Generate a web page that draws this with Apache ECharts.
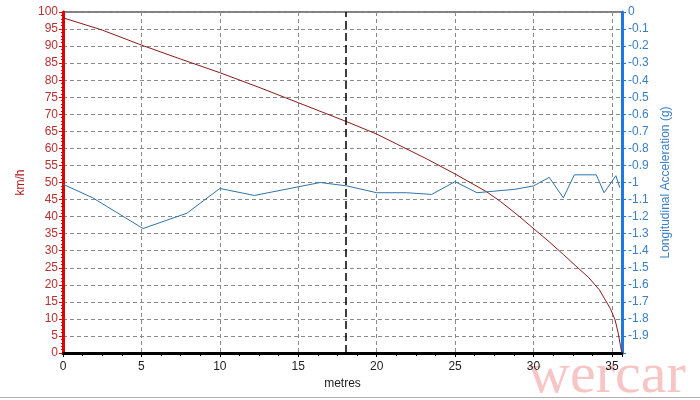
<!DOCTYPE html>
<html>
<head>
<meta charset="utf-8">
<script src="https://cdn.jsdelivr.net/npm/echarts@6/dist/echarts.min.js"></script>
<style>html,body{margin:0;padding:0;background:#fff}#c{width:700px;height:400px}</style>
</head>
<body>
<div id="c"></div>
<script>
// distance (metres) and speed (km/h)
const speedX = [0, 2.5, 5, 7.5, 10, 12.5, 15, 18, 20, 23.2, 25, 27, 27.9, 29, 30.1, 31, 31.9, 32.7, 33.5, 34.2, 34.9, 35.2, 35.4, 35.55, 35.63];
const speedV = [98.3, 94.7, 90.3, 86.2, 82.2, 77.9, 73.4, 68.0, 64.2, 56.9, 52.5, 47.3, 44.4, 40.4, 36.1, 32.6, 28.9, 25.5, 22.2, 18.5, 13.0, 9.7, 5.8, 1.9, 0];
// distance (metres) and longitudinal acceleration (g)
const accX = [0, 1.9, 5.1, 7.9, 10, 12.2, 16.4, 18.1, 20, 21.9, 23.5, 25, 26.4, 28.8, 30, 31, 31.9, 32.6, 34, 34.5, 35.25, 35.5];
const accG = [-1.01, -1.09, -1.27, -1.18, -1.035, -1.076, -1.0, -1.02, -1.06, -1.06, -1.07, -0.995, -1.06, -1.04, -1.02, -0.97, -1.09, -0.955, -0.955, -1.06, -0.96, -1.03];
const markerX = 18;
const xMax = 35.64;

const speedData = speedX.map((x, i) => [x, speedV[i]]);
const accData = accX.map((x, i) => [x, accG[i]]);

const chart = echarts.init(document.getElementById('c'), null, {renderer: 'canvas'});
const font = 'Liberation Sans, Arial, sans-serif';
chart.setOption({
  animation: false,
  backgroundColor: '#ffffff',
  grid: {left: 63, right: 78, top: 12, bottom: 47, show: true, borderColor: '#000', borderWidth: 1},
  xAxis: {
    type: 'value', min: 0, max: xMax, interval: 5,
    name: 'metres', nameLocation: 'middle', nameGap: 22,
    nameTextStyle: {color: '#222', fontFamily: font, fontSize: 12},
    axisLine: {lineStyle: {color: '#000', width: 3}},
    axisTick: {show: true, length: 4, lineStyle: {color: '#000'}},
    minorTick: {show: true, splitNumber: 4, length: 3, lineStyle: {color: '#000'}},
    axisLabel: {color: '#222', fontFamily: font, fontSize: 12, margin: 8,
      formatter: v => (Math.abs(v / 5 - Math.round(v / 5)) < 1e-6 ? String(Math.round(v)) : '')},
    splitLine: {show: true, lineStyle: {type: [4, 3], color: '#8a8a8a'}}
  },
  yAxis: [{
    type: 'value', min: 0, max: 100, interval: 5, position: 'left',
    name: 'km/h', nameLocation: 'middle', nameGap: 35, nameRotate: 90,
    nameTextStyle: {color: '#b01818', fontFamily: font, fontSize: 12},
    axisLine: {show: true, lineStyle: {color: '#e00000', width: 3}},
    axisTick: {show: true, length: 4, lineStyle: {color: '#e00000'}},
    minorTick: {show: true, splitNumber: 5, length: 2, lineStyle: {color: '#e00000'}},
    axisLabel: {color: '#b83030', fontFamily: font, fontSize: 12, margin: 5},
    splitLine: {show: true, lineStyle: {type: [4, 3], color: '#8a8a8a'}}
  }, {
    type: 'value', min: -2, max: 0, interval: 0.1, position: 'right',
    name: 'Longitudinal Acceleration (g)', nameLocation: 'middle', nameGap: 38, nameRotate: 90,
    nameTextStyle: {color: '#3a7fc8', fontFamily: font, fontSize: 12},
    axisLine: {show: true, lineStyle: {color: '#1e78e0', width: 3}},
    axisTick: {show: true, length: 4, lineStyle: {color: '#1e78e0'}},
    minorTick: {show: true, splitNumber: 5, length: 2, lineStyle: {color: '#1e78e0'}},
    axisLabel: {color: '#3a7fc8', fontFamily: font, fontSize: 12, margin: 6,
      formatter: v => (v <= -1.99 ? '' : String(Math.round(v * 10) / 10))},
    splitLine: {show: false}
  }],
  series: [{
    type: 'line', yAxisIndex: 0, data: speedData, showSymbol: false, smooth: false,
    lineStyle: {color: '#8b1a1a', width: 1},
    markLine: {
      silent: true, symbol: ['none', 'none'], label: {show: false},
      lineStyle: {color: '#000', type: [8, 4], width: 1.5},
      data: [{xAxis: markerX}]
    }
  }, {
    type: 'line', yAxisIndex: 1, data: accData, showSymbol: false,
    lineStyle: {color: '#2f74a8', width: 1}
  }],
  graphic: [{
    type: 'text', left: 528, top: 348, silent: true,
    style: {text: 'wercar', font: '58px "Liberation Serif", serif', fill: 'rgba(240,150,150,0.55)'}
  }, {
    type: 'line', silent: true, shape: {x1: 0, y1: 397.5, x2: 700, y2: 397.5},
    style: {stroke: '#b0b0b0', lineWidth: 1}
  }]
});
</script>
</body>
</html>
